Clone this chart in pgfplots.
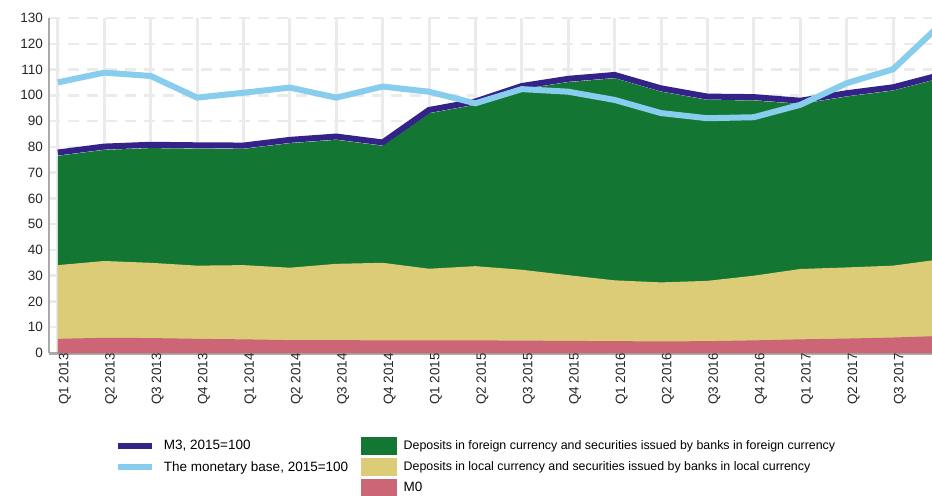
\documentclass[border=0pt]{standalone}
\usepackage{pgfplots}
\pgfplotsset{compat=1.18}
\usepackage{pgfplotstable}
\usepackage{fontspec}
\setmainfont{Liberation Sans}

\definecolor{cGreen}{HTML}{137733}
\definecolor{cSand}{HTML}{DDCC77}
\definecolor{cRose}{HTML}{CC6677}
\definecolor{cIndigo}{HTML}{332288}
\definecolor{cCyan}{HTML}{88CCEE}
\definecolor{cGrid}{HTML}{EBEBEB}
\definecolor{cAxis}{HTML}{AAAAAA}

\pgfplotsset{
  lineleg/.style={legend image code/.code={\draw[##1] (0bp,0bp) -- (34bp,0bp);}},
  boxleg/.style={legend image code/.code={\fill[##1] (0bp,-9bp) rectangle (36bp,9bp);}},
}
\newcommand{\longtxt}{\fontsize{12.4bp}{16bp}\selectfont}

% tops of the stacked areas (cumulative), M3 and monetary base (2015=100)
\pgfplotstableread{
x  total local mzero m3    base
0  76.5  34.1  5.5   77.8  105.0
1  78.8  35.7  5.9   80.1  108.8
2  79.5  35.0  5.8   80.8  107.5
3  79.3  33.9  5.5   80.6  99.1
4  79.2  34.1  5.3   80.5  101.0
5  81.4  33.1  5.0   82.7  103.0
6  82.7  34.6  5.0   84.0  99.1
7  80.4  35.0  4.9   81.7  103.4
8  93.0  32.7  4.9   94.3  101.4
9  96.3  33.7  4.9   97.6  96.9
10 102.3 32.3  4.8   103.6 102.4
11 105.1 30.2  4.7   106.4 101.4
12 106.6 28.2  4.6   107.9 98.2
13 101.4 27.4  4.5   102.7 93.1
14 98.2  28.0  4.6   99.5  91.1
15 98.0  30.0  4.9   99.3  91.5
16 96.6  32.6  5.3   97.9  96.3
17 99.5  33.2  5.6   100.8 104.7
18 101.8 33.9  6.0   103.1 110.1
19 106.5 36.3  6.6   107.8 127.1
}\moneydata

\begin{document}
\begin{tikzpicture}
\useasboundingbox (-49bp,-143bp) rectangle (883bp,353bp);
\begin{axis}[
  scale only axis,
  width=883bp, height=335bp,
  xmin=-0.19, xmax=18.84,
  ymin=0, ymax=130,
  xtick={0,...,18},
  xticklabels={Q1 2013,Q2 2013,Q3 2013,Q4 2013,Q1 2014,Q2 2014,Q3 2014,Q4 2014,
    Q1 2015,Q2 2015,Q3 2015,Q4 2015,Q1 2016,Q2 2016,Q3 2016,Q4 2016,
    Q1 2017,Q2 2017,Q3 2017},
  ytick={0,10,...,130},
  major tick length=0pt,
  tick label style={font=\fontsize{13.5bp}{16bp}\selectfont, text=black!85},
  xticklabel style={rotate=90, anchor=east, inner sep=0pt, yshift=-7bp},
  yticklabel style={inner sep=0pt, xshift=-6bp},
  /pgf/number format/assume math mode=true,
  axis x line*=bottom, axis y line*=left,
  x axis line style={draw=cAxis, line width=3bp, -},
  y axis line style={draw=cAxis, line width=2bp, -},
  xmajorgrids, ymajorgrids,
  x grid style={draw=cGrid, line width=3bp},
  y grid style={draw=cGrid, line width=2.5bp, dash pattern=on 11bp off 8bp},
  legend style={
    at={(0.0747,-0.2507)}, anchor=north west,
    draw=none, fill=none, inner sep=0pt, outer sep=0pt,
    font=\fontsize{13.5bp}{16bp}\selectfont,
    row sep=3bp,
    nodes={inner sep=0pt, anchor=west},
    /tikz/column 1/.style={column sep=9bp},
    /tikz/column 2/.style={column sep=13bp},
    /tikz/column 3/.style={column sep=6.5bp},
  },
  legend columns=2,
]
\addplot[fill=cGreen, draw=none, forget plot] table[x=x, y=total] {\moneydata} \closedcycle;
\addplot[fill=cSand, draw=none, forget plot] table[x=x, y=local] {\moneydata} \closedcycle;
\addplot[fill=cRose, draw=none, forget plot] table[x=x, y=mzero] {\moneydata} \closedcycle;
\addplot[cIndigo, line width=6bp, forget plot] table[x=x, y=m3] {\moneydata};
\addplot[cCyan, line width=6bp, forget plot] table[x=x, y=base] {\moneydata};

\addlegendimage{cIndigo, line width=6bp, lineleg}
\addlegendentry{M3, 2015=100}
\addlegendimage{fill=cGreen, draw=none, boxleg}
\addlegendentry{\longtxt Deposits in foreign currency and securities issued by banks in foreign currency}
\addlegendimage{cCyan, line width=6bp, lineleg}
\addlegendentry{The monetary base, 2015=100}
\addlegendimage{fill=cSand, draw=none, boxleg}
\addlegendentry{\longtxt Deposits in local currency and securities issued by banks in local currency}
\addlegendimage{empty legend}
\addlegendentry{}
\addlegendimage{fill=cRose, draw=none, boxleg}
\addlegendentry{M0}
\end{axis}
\end{tikzpicture}
\end{document}
